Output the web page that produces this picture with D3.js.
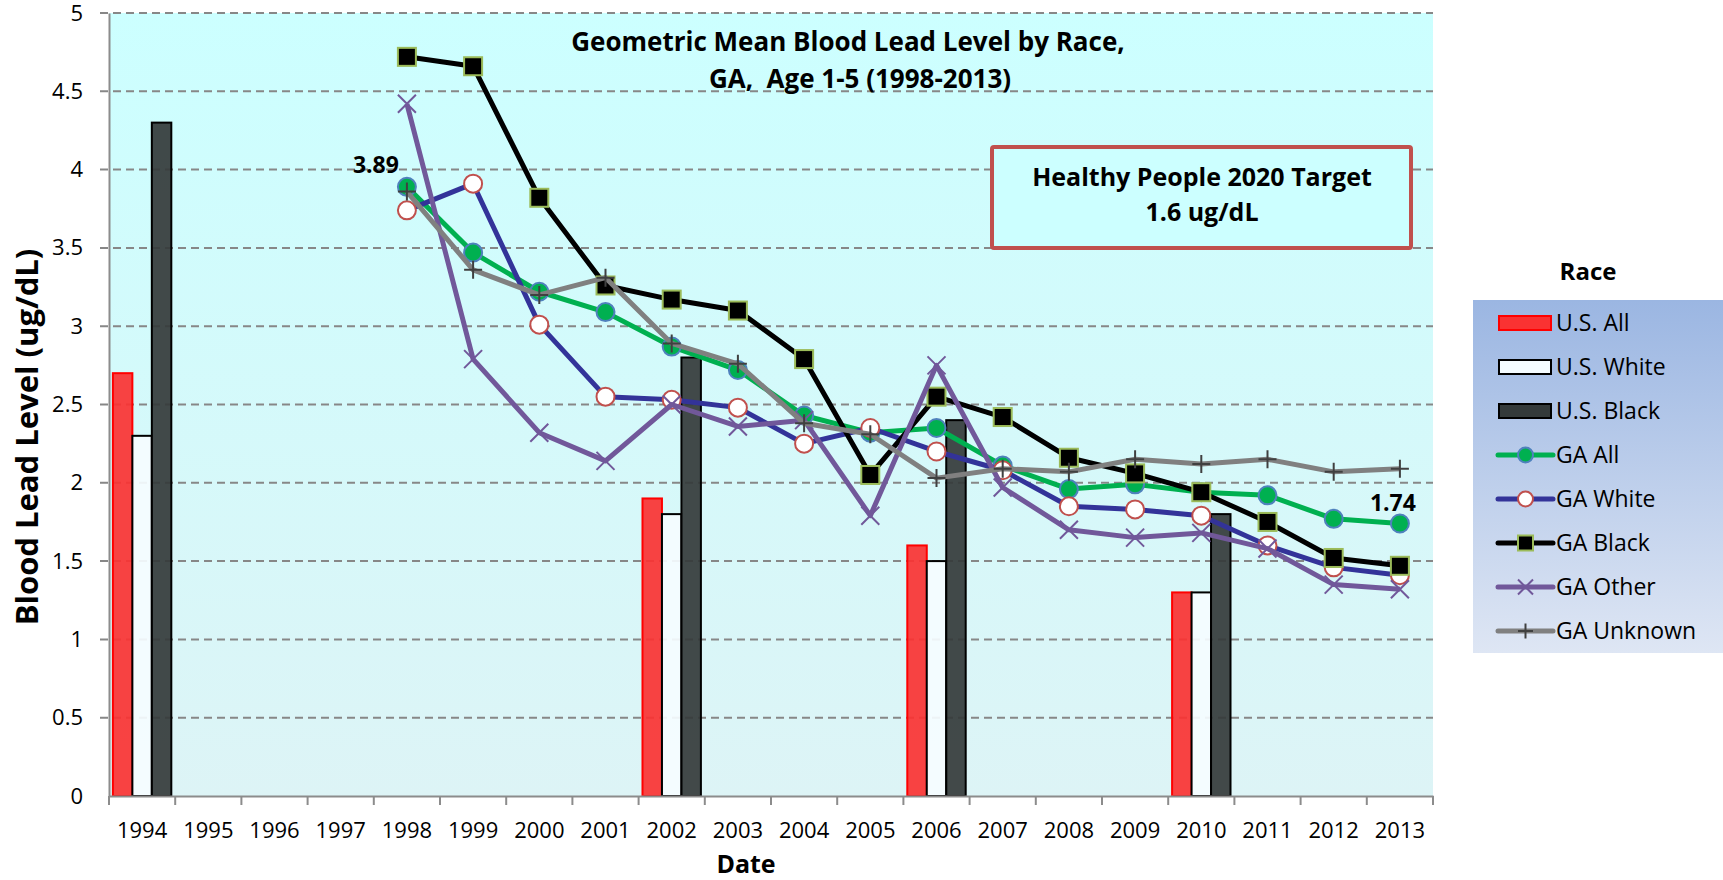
<!DOCTYPE html>
<html>
<head>
<meta charset="utf-8">
<script src="https://cdn.jsdelivr.net/npm/d3@7"></script>
<style>
  body { margin: 0; background: #fff; }
  text { font-family: "Open Sans", "Noto Sans", sans-serif; }
</style>
</head>
<body>
<script>
// ---- data ----
var years = ["1994","1995","1996","1997","1998","1999","2000","2001","2002","2003",
             "2004","2005","2006","2007","2008","2009","2010","2011","2012","2013"];
var gaYears = years.slice(4); // 1998-2013

// U.S. bars
var barYears = ["1994", "2002", "2006", "2010"];
var usAll   = [2.7, 1.9, 1.6, 1.3];
var usWhite = [2.3, 1.8, 1.5, 1.3];
var usBlack = [4.3, 2.8, 2.4, 1.8];

// Georgia lines
var gaAll     = [3.89, 3.47, 3.22, 3.09, 2.87, 2.72, 2.43, 2.32, 2.35, 2.11, 1.96, 1.99, 1.94, 1.92, 1.77, 1.74];
var gaWhite   = [3.74, 3.91, 3.01, 2.55, 2.53, 2.48, 2.25, 2.35, 2.20, 2.08, 1.85, 1.83, 1.79, 1.60, 1.46, 1.41];
var gaBlack   = [4.72, 4.66, 3.82, 3.26, 3.17, 3.10, 2.79, 2.05, 2.55, 2.42, 2.16, 2.06, 1.94, 1.75, 1.52, 1.47];
var gaOther   = [4.42, 2.79, 2.32, 2.14, 2.50, 2.36, 2.40, 1.79, 2.75, 1.97, 1.70, 1.65, 1.68, 1.58, 1.35, 1.32];
var gaUnknown = [3.86, 3.36, 3.20, 3.31, 2.89, 2.76, 2.38, 2.31, 2.03, 2.09, 2.07, 2.15, 2.12, 2.15, 2.07, 2.09];

var yTicks = [0, 0.5, 1, 1.5, 2, 2.5, 3, 3.5, 4, 4.5, 5];

// ---- series styles ----
var barSeries = [
  { name: "U.S. All",   values: usAll,   fill: "#FA3232", stroke: "#FF0000" },
  { name: "U.S. White", values: usWhite, fill: "#F5FCFF", stroke: "#000000" },
  { name: "U.S. Black", values: usBlack, fill: "#343A3A", stroke: "#000000" }
];
var lineSeries = [
  { name: "GA All",     values: gaAll,     color: "#00B050", marker: "circle", mFill: "#00B050", mStroke: "#4F81BD" },
  { name: "GA White",   values: gaWhite,   color: "#333399", marker: "circle", mFill: "#FFFFFF", mStroke: "#C0504D" },
  { name: "GA Black",   values: gaBlack,   color: "#000000", marker: "square", mFill: "#000000", mStroke: "#9BBB59" },
  { name: "GA Other",   values: gaOther,   color: "#71589A", marker: "x",      mFill: "none",    mStroke: "#71589A" },
  { name: "GA Unknown", values: gaUnknown, color: "#808080", marker: "plus",   mFill: "none",    mStroke: "#404040" }
];

// ---- stage ----
var width = 1723, height = 880;
var plotLeft = 109, plotRight = 1433, plotTop = 13, plotBottom = 796;

var svg = d3.select("body").append("svg")
  .attr("width", width)
  .attr("height", height);

var defs = svg.append("defs");
var g1 = defs.append("linearGradient").attr("id", "plotBg").attr("x1", 0).attr("y1", 0).attr("x2", 0).attr("y2", 1);
g1.append("stop").attr("offset", "0%").attr("stop-color", "#CCFFFF");
g1.append("stop").attr("offset", "100%").attr("stop-color", "#DDF4F6");
var g2 = defs.append("linearGradient").attr("id", "legBg").attr("x1", 0).attr("y1", 0).attr("x2", 0).attr("y2", 1);
g2.append("stop").attr("offset", "0%").attr("stop-color", "#9BB6E2");
g2.append("stop").attr("offset", "100%").attr("stop-color", "#DEE6F4");

// ---- scales ----
var x = d3.scaleBand().domain(years).range([plotLeft, plotRight]);
var xBar = d3.scaleBand().domain(barSeries.map(d => d.name)).range([0, x.bandwidth()]).paddingOuter(0.2);
var y = d3.scaleLinear().domain([0, 5]).range([plotBottom, plotTop]);
var cx = d => x(d) + x.bandwidth() / 2;

// plot background
svg.append("rect")
  .attr("x", plotLeft).attr("y", plotTop)
  .attr("width", plotRight - plotLeft).attr("height", plotBottom - plotTop)
  .attr("fill", "url(#plotBg)");

// gridlines
svg.append("g").selectAll("line")
  .data(yTicks.filter(d => d > 0))
  .enter().append("line")
  .attr("x1", plotLeft - 9).attr("x2", plotRight)
  .attr("y1", d => y(d)).attr("y2", d => y(d))
  .attr("stroke", "#878787")
  .attr("stroke-width", 2)
  .attr("stroke-dasharray", "8,5");

// bars
barSeries.forEach(function (s) {
  svg.append("g").selectAll("rect")
    .data(barYears.map((yr, i) => ({ year: yr, v: s.values[i] })))
    .enter().append("rect")
    .attr("x", d => x(d.year) + xBar(s.name))
    .attr("y", d => y(d.v))
    .attr("width", xBar.bandwidth())
    .attr("height", d => plotBottom - y(d.v))
    .attr("fill", s.fill)
    .attr("fill-opacity", 0.92)
    .attr("stroke", s.stroke)
    .attr("stroke-width", 2);
});

// axes
var yAxis = svg.append("g")
  .attr("transform", "translate(" + plotLeft + ",0)")
  .call(d3.axisLeft(y).tickValues(yTicks).tickFormat(d => String(d)).tickSize(0).tickPadding(26));
yAxis.select(".domain").attr("stroke", "#8C8C8C").attr("stroke-width", 2);
yAxis.selectAll("text").style("font-size", "22px").attr("fill", "#000");

var xAxis = svg.append("g")
  .attr("transform", "translate(0," + plotBottom + ")")
  .call(d3.axisBottom(x).tickSize(0).tickPadding(26).tickSizeOuter(0));
xAxis.select(".domain").attr("stroke", "#8C8C8C").attr("stroke-width", 2);
xAxis.selectAll("text").style("font-size", "22px").attr("fill", "#000");
// category boundary ticks
xAxis.append("g").selectAll("line")
  .data(years.map(d => x(d)).concat([plotRight]))
  .enter().append("line")
  .attr("x1", d => d).attr("x2", d => d)
  .attr("y1", 0).attr("y2", 9)
  .attr("stroke", "#8C8C8C").attr("stroke-width", 2);

// lines + markers
var line = d3.line()
  .x((d, i) => cx(gaYears[i]))
  .y(d => y(d));

function drawMarker(sel, s, size) {
  var h = size / 2;
  if (s.marker === "circle") {
    sel.append("circle").attr("r", h)
      .attr("fill", s.mFill).attr("stroke", s.mStroke).attr("stroke-width", 2);
  } else if (s.marker === "square") {
    sel.append("rect").attr("x", -h).attr("y", -h).attr("width", size).attr("height", size)
      .attr("fill", s.mFill).attr("stroke", s.mStroke).attr("stroke-width", 2);
  } else if (s.marker === "x") {
    sel.append("path").attr("d", "M" + -h + "," + -h + "L" + h + "," + h + "M" + -h + "," + h + "L" + h + "," + -h)
      .attr("stroke", s.mStroke).attr("stroke-width", 2).attr("fill", "none");
  } else {
    sel.append("path").attr("d", "M" + -h + ",0H" + h + "M0," + -h + "V" + h)
      .attr("stroke", s.mStroke).attr("stroke-width", 2).attr("fill", "none");
  }
}

lineSeries.forEach(function (s) {
  var g = svg.append("g");
  g.append("path")
    .datum(s.values)
    .attr("d", line)
    .attr("fill", "none")
    .attr("stroke", s.color)
    .attr("stroke-width", 5)
    .attr("stroke-linejoin", "round");
  g.selectAll("g.m")
    .data(s.values)
    .enter().append("g")
    .attr("class", "m")
    .attr("transform", (d, i) => "translate(" + cx(gaYears[i]) + "," + y(d) + ")")
    .each(function () { drawMarker(d3.select(this), s, 18); });
});

// data labels
svg.append("text")
  .attr("x", cx("1998") - 8).attr("y", y(gaAll[0]) - 14)
  .attr("text-anchor", "end")
  .style("font-size", "23px").style("font-weight", "bold")
  .text(gaAll[0].toFixed(2));
svg.append("text")
  .attr("x", cx("2013") - 7).attr("y", y(gaAll[gaAll.length - 1]) - 13)
  .attr("text-anchor", "middle")
  .style("font-size", "23px").style("font-weight", "bold")
  .text(gaAll[gaAll.length - 1].toFixed(2));

// title
svg.append("text")
  .attr("x", 848).attr("y", 51)
  .attr("text-anchor", "middle")
  .style("font-size", "26px").style("font-weight", "bold")
  .text("Geometric Mean Blood Lead Level by Race,");
svg.append("text")
  .attr("x", 860).attr("y", 88)
  .attr("text-anchor", "middle")
  .style("font-size", "26px").style("font-weight", "bold")
  .text("GA,\u00A0 Age 1-5 (1998-2013)");

// target box
svg.append("rect")
  .attr("x", 992).attr("y", 147)
  .attr("width", 419).attr("height", 101)
  .attr("rx", 2)
  .attr("fill", "#CCFFFF")
  .attr("stroke", "#C0504D")
  .attr("stroke-width", 4);
svg.append("text")
  .attr("x", 1202).attr("y", 186)
  .attr("text-anchor", "middle")
  .style("font-size", "25px").style("font-weight", "bold")
  .text("Healthy People 2020 Target");
svg.append("text")
  .attr("x", 1202).attr("y", 221)
  .attr("text-anchor", "middle")
  .style("font-size", "25px").style("font-weight", "bold")
  .text("1.6 ug/dL");

// axis titles
svg.append("text")
  .attr("transform", "translate(38,437) rotate(-90)")
  .attr("text-anchor", "middle")
  .style("font-size", "31px").style("font-weight", "bold")
  .text("Blood Lead Level (ug/dL)");
svg.append("text")
  .attr("x", 746).attr("y", 873)
  .attr("text-anchor", "middle")
  .style("font-size", "25px").style("font-weight", "bold")
  .text("Date");

// legend
svg.append("text")
  .attr("x", 1588).attr("y", 280)
  .attr("text-anchor", "middle")
  .style("font-size", "24px").style("font-weight", "bold")
  .text("Race");
svg.append("rect")
  .attr("x", 1473).attr("y", 300)
  .attr("width", 250).attr("height", 353)
  .attr("fill", "url(#legBg)");

var legendItems = barSeries.map(s => ({ s: s, type: "bar" }))
  .concat(lineSeries.map(s => ({ s: s, type: "line" })));
var leg = svg.append("g").selectAll("g")
  .data(legendItems)
  .enter().append("g")
  .attr("transform", (d, i) => "translate(1498," + (323 + i * 44) + ")");
leg.each(function (d) {
  var g = d3.select(this);
  if (d.type === "bar") {
    g.append("rect").attr("x", 1).attr("y", -7).attr("width", 52).attr("height", 14)
      .attr("fill", d.s.fill).attr("stroke", d.s.stroke).attr("stroke-width", 2);
  } else {
    g.append("line").attr("x1", 0).attr("x2", 55).attr("y1", 0).attr("y2", 0)
      .attr("stroke", d.s.color).attr("stroke-width", 5).attr("stroke-linecap", "round");
    var m = g.append("g").attr("transform", "translate(27.5,0)");
    drawMarker(m, d.s, 15);
  }
  g.append("text")
    .attr("x", 58).attr("y", 0).attr("dy", "0.35em")
    .style("font-size", "23px")
    .text(d.s.name);
});
</script>
</body>
</html>
